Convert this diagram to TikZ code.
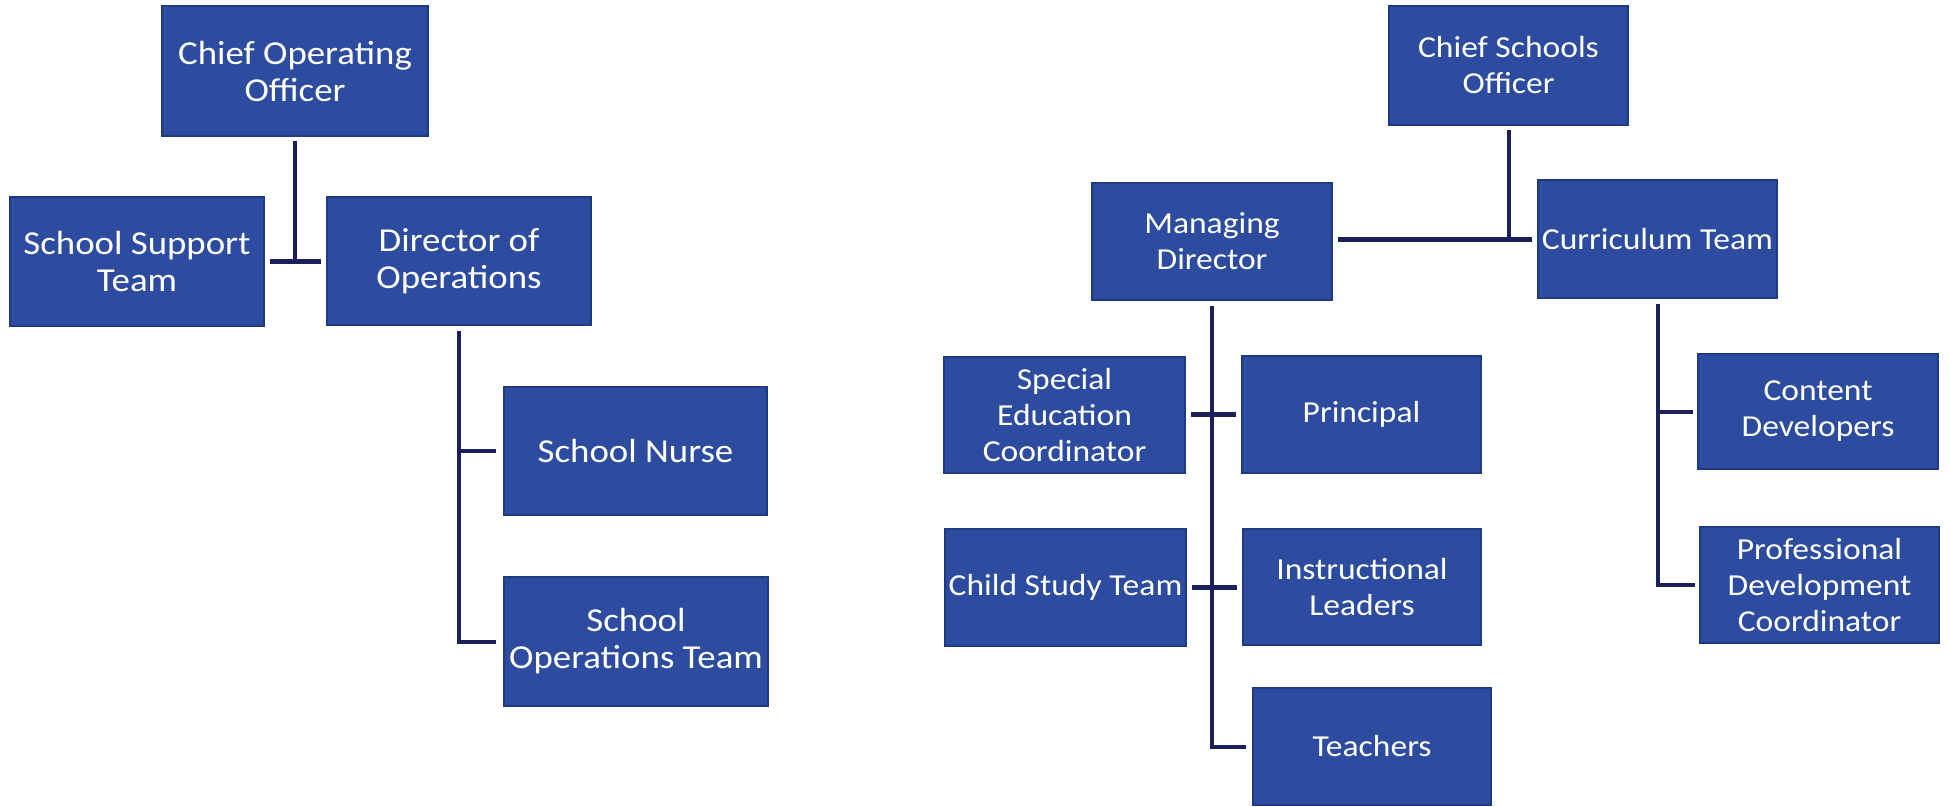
\documentclass[tikz,border=0pt]{standalone}
\usepackage{fontspec}
\newfontfamily\boxfont{Carlito}[FakeStretch=1.1]
\definecolor{boxblue}{HTML}{2D4C9F}
\definecolor{boxedge}{HTML}{1F3A85}
\definecolor{linenavy}{HTML}{1B1F5C}
\tikzset{
  orgbox/.style={rectangle, fill=boxblue, draw=boxedge, line width=2pt, inner sep=0pt,
    text=white, align=center, font=\boxfont\fontsize{33.5}{37}\selectfont},
  orgboxr/.style={orgbox, font=\boxfont\fontsize{30.5}{36}\selectfont},
  conn/.style={draw=linenavy, line width=4pt},
  bar/.style={draw=linenavy, line width=5pt, shorten <=5pt, shorten >=5pt}
}
\begin{document}
\begin{tikzpicture}[x=1pt,y=-1pt]
\useasboundingbox (0,0) rectangle (1950,806);
% left chart
\node[orgbox, minimum width=266pt, minimum height=130pt] (coo) at (295,71) {Chief Operating\\Officer};
\node[orgbox, minimum width=254pt, minimum height=129pt] (sst) at (137,261.5) {School Support\\Team};
\node[orgbox, minimum width=264pt, minimum height=128pt] (doo) at (459,261) {Director of\\Operations};
\node[orgbox, minimum width=263pt, minimum height=128pt] (nurse) at (635.5,451) {School Nurse};
\node[orgbox, minimum width=264pt, minimum height=129pt] (sot) at (636,641.5) {School\\Operations Team};
% right chart
\node[orgboxr, minimum width=239pt, minimum height=119pt] (cso) at (1508.5,65.5) {Chief Schools\\Officer};
\node[orgboxr, minimum width=240pt, minimum height=117pt] (md) at (1212,241.5) {Managing\\Director};
\node[orgboxr, minimum width=239pt, minimum height=118pt] (ct) at (1657.5,239) {Curriculum Team};
\node[orgboxr, minimum width=241pt, minimum height=116pt] (sec) at (1064.5,415) {Special\\Education\\Coordinator};
\node[orgboxr, minimum width=239pt, minimum height=117pt] (prin) at (1361.5,414.5) {Principal};
\node[orgboxr, minimum width=241pt, minimum height=117pt] (cst) at (1065.5,587.5) {Child Study Team};
\node[orgboxr, minimum width=238pt, minimum height=116pt] (il) at (1362,587) {Instructional\\Leaders};
\node[orgboxr, minimum width=238pt, minimum height=117pt] (teach) at (1372,746.5) {Teachers};
\node[orgboxr, minimum width=240pt, minimum height=115pt] (cd) at (1818,411.5) {Content\\Developers};
\node[orgboxr, minimum width=239pt, minimum height=116pt] (pdc) at (1819.5,585) {Professional\\Development\\Coordinator};
% left connectors
\draw[conn, shorten <=4pt] (coo.south) -- (coo.south |- sst.east);
\draw[bar] (sst.east) -- (sst.east -| doo.west);
\draw[conn, shorten <=5pt, shorten >=7pt] (doo.south) |- (nurse.west);
\draw[conn, shorten <=5pt, shorten >=7pt] (doo.south) |- (sot.west);
% right connectors
\draw[conn, shorten <=4pt] (cso.south) -- (cso.south |- ct.west);
\draw[bar] (md.east |- ct.west) -- (ct.west);
\draw[conn, shorten <=5pt, shorten >=6pt] (md.south) |- (teach.west);
\draw[bar] (sec.east |- prin.west) -- (prin.west);
\draw[bar] (cst.east |- il.west) -- (il.west);
\draw[conn, shorten <=5pt, shorten >=4pt] (ct.south) |- (cd.west);
\draw[conn, shorten <=5pt, shorten >=4pt] (ct.south) |- (pdc.west);
\end{tikzpicture}
\end{document}
